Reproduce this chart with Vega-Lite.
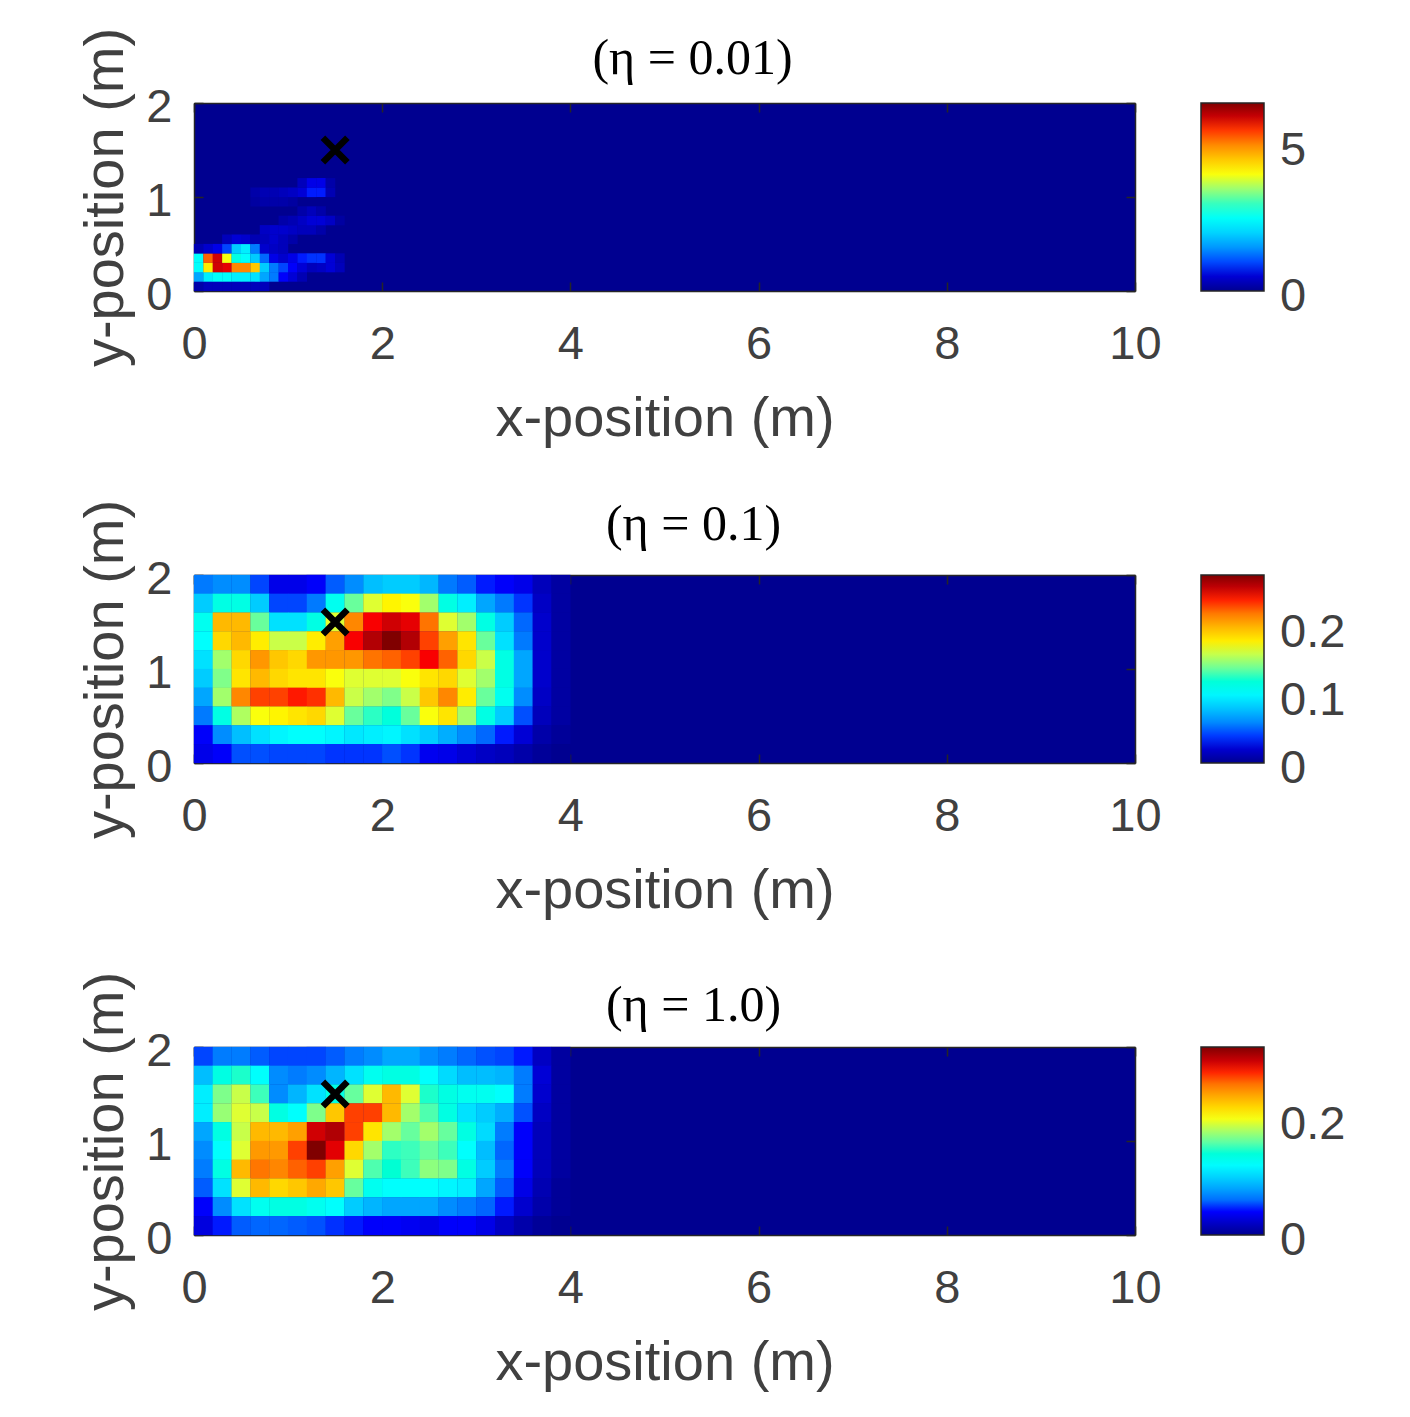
{
"$schema":"https://vega.github.io/schema/vega-lite/v6.json",
"background":"white",
"padding":{"left":77,"top":27,"right":10,"bottom":5},
"bounds":"flush",
"spacing":284,
"resolve":{"scale":{"color":"independent"}},
"config":{
"view":{"fill":"#000090","stroke":null},
"font":"Liberation Sans",
"axis":{"grid":false,"zindex":1,"format":"d","labelFont":"Liberation Sans","labelFontSize":47,"labelColor":"#404040","labelFlush":false,"labelOverlap":false,"titleFont":"Liberation Sans","titleFontSize":56,"titleFontWeight":"normal","titleColor":"#404040","domainColor":"#262626","domainWidth":1.5,"tickColor":"#262626","tickWidth":1.5,"tickSize":-9},
"axisX":{"labelPadding":62,"titlePadding":24,"labelBaseline":"middle"},
"axisY":{"labelPadding":31,"titlePadding":11,"labelOffset":4}
},
"datasets":{
"mark":[{"x":1.5,"y":1.5}],
"p1":[
{"x":0.05,"y":0.05,"v":0.19},{"x":0.15,"y":0.05,"v":0.32},{"x":0.25,"y":0.05,"v":0.32},{"x":0.35,"y":0.05,"v":0.32},{"x":0.45,"y":0.05,"v":0.32},{"x":0.55,"y":0.05,"v":0.32},{"x":0.65,"y":0.05,"v":0.32},{"x":0.75,"y":0.05,"v":0.32},
{"x":0.05,"y":0.15,"v":1.61},{"x":0.15,"y":0.15,"v":2.25},{"x":0.25,"y":0.15,"v":2.45},{"x":0.35,"y":0.15,"v":2.45},{"x":0.45,"y":0.15,"v":2.25},{"x":0.55,"y":0.15,"v":2.25},{"x":0.65,"y":0.15,"v":2.13},{"x":0.75,"y":0.15,"v":1.61},{"x":0.85,"y":0.15,"v":1.29},{"x":0.95,"y":0.15,"v":0.77},{"x":1.05,"y":0.15,"v":0.52},{"x":1.15,"y":0.15,"v":0.26},
{"x":0.05,"y":0.25,"v":2.45},{"x":0.15,"y":0.25,"v":4.19},{"x":0.25,"y":0.25,"v":5.92},{"x":0.35,"y":0.25,"v":5.8},{"x":0.45,"y":0.25,"v":5.02},{"x":0.55,"y":0.25,"v":5.02},{"x":0.65,"y":0.25,"v":4.51},{"x":0.75,"y":0.25,"v":1.93},{"x":0.85,"y":0.25,"v":1.29},{"x":0.95,"y":0.25,"v":0.97},{"x":1.05,"y":0.25,"v":0.77},{"x":1.15,"y":0.25,"v":0.52},{"x":1.25,"y":0.25,"v":0.32},{"x":1.35,"y":0.25,"v":0.39},{"x":1.45,"y":0.25,"v":0.52},{"x":1.55,"y":0.25,"v":0.32},
{"x":0.05,"y":0.35,"v":2.45},{"x":0.15,"y":0.35,"v":5.28},{"x":0.25,"y":0.35,"v":5.92},{"x":0.35,"y":0.35,"v":3.99},{"x":0.45,"y":0.35,"v":2.7},{"x":0.55,"y":0.35,"v":2.45},{"x":0.65,"y":0.35,"v":1.93},{"x":0.75,"y":0.35,"v":1.16},{"x":0.85,"y":0.35,"v":0.64},{"x":0.95,"y":0.35,"v":0.45},{"x":1.05,"y":0.35,"v":0.64},{"x":1.15,"y":0.35,"v":0.84},{"x":1.25,"y":0.35,"v":0.9},{"x":1.35,"y":0.35,"v":0.9},{"x":1.45,"y":0.35,"v":0.52},{"x":1.55,"y":0.35,"v":0.26},
{"x":0.05,"y":0.45,"v":0.26},{"x":0.15,"y":0.45,"v":0.45},{"x":0.25,"y":0.45,"v":0.64},{"x":0.35,"y":0.45,"v":0.97},{"x":0.45,"y":0.45,"v":1.93},{"x":0.55,"y":0.45,"v":2.25},{"x":0.65,"y":0.45,"v":1.29},{"x":0.75,"y":0.45,"v":0.45},{"x":0.85,"y":0.45,"v":0.39},{"x":0.95,"y":0.45,"v":0.32},
{"x":0.35,"y":0.55,"v":0.32},{"x":0.45,"y":0.55,"v":0.52},{"x":0.55,"y":0.55,"v":0.45},{"x":0.65,"y":0.55,"v":0.26},{"x":0.75,"y":0.55,"v":0.32},{"x":0.85,"y":0.55,"v":0.45},{"x":0.95,"y":0.55,"v":0.32},{"x":1.05,"y":0.55,"v":0.19},
{"x":0.75,"y":0.65,"v":0.39},{"x":0.85,"y":0.65,"v":0.45},{"x":0.95,"y":0.65,"v":0.45},{"x":1.05,"y":0.65,"v":0.39},{"x":1.15,"y":0.65,"v":0.32},{"x":1.25,"y":0.65,"v":0.32},{"x":1.35,"y":0.65,"v":0.19},
{"x":0.95,"y":0.75,"v":0.19},{"x":1.05,"y":0.75,"v":0.26},{"x":1.15,"y":0.75,"v":0.39},{"x":1.25,"y":0.75,"v":0.52},{"x":1.35,"y":0.75,"v":0.52},{"x":1.45,"y":0.75,"v":0.39},{"x":1.55,"y":0.75,"v":0.13},
{"x":1.15,"y":0.85,"v":0.19},{"x":1.25,"y":0.85,"v":0.32},{"x":1.35,"y":0.85,"v":0.19},
{"x":0.65,"y":0.95,"v":0.13},{"x":0.75,"y":0.95,"v":0.19},{"x":0.85,"y":0.95,"v":0.19},{"x":0.95,"y":0.95,"v":0.19},{"x":1.05,"y":0.95,"v":0.13},
{"x":0.65,"y":1.05,"v":0.19},{"x":0.75,"y":1.05,"v":0.26},{"x":0.85,"y":1.05,"v":0.26},{"x":0.95,"y":1.05,"v":0.32},{"x":1.05,"y":1.05,"v":0.39},{"x":1.15,"y":1.05,"v":0.52},{"x":1.25,"y":1.05,"v":0.84},{"x":1.35,"y":1.05,"v":0.84},{"x":1.45,"y":1.05,"v":0.26},
{"x":1.15,"y":1.15,"v":0.32},{"x":1.25,"y":1.15,"v":0.64},{"x":1.35,"y":1.15,"v":0.64},{"x":1.45,"y":1.15,"v":0.19}
],
"p2":[
{"x":0.1,"y":1.9,"v":0.055},{"x":0.3,"y":1.9,"v":0.061},{"x":0.5,"y":1.9,"v":0.061},{"x":0.7,"y":1.9,"v":0.042},{"x":0.9,"y":1.9,"v":0.028},{"x":1.1,"y":1.9,"v":0.028},{"x":1.3,"y":1.9,"v":0.033},{"x":1.5,"y":1.9,"v":0.047},{"x":1.7,"y":1.9,"v":0.061},{"x":1.9,"y":1.9,"v":0.078},{"x":2.1,"y":1.9,"v":0.083},{"x":2.3,"y":1.9,"v":0.083},{"x":2.5,"y":1.9,"v":0.075},{"x":2.7,"y":1.9,"v":0.055},{"x":2.9,"y":1.9,"v":0.047},{"x":3.1,"y":1.9,"v":0.036},{"x":3.3,"y":1.9,"v":0.033},{"x":3.5,"y":1.9,"v":0.028},{"x":3.7,"y":1.9,"v":0.014},{"x":3.9,"y":1.9,"v":0.006},
{"x":0.1,"y":1.7,"v":0.083},{"x":0.3,"y":1.7,"v":0.116},{"x":0.5,"y":1.7,"v":0.116},{"x":0.7,"y":1.7,"v":0.083},{"x":0.9,"y":1.7,"v":0.042},{"x":1.1,"y":1.7,"v":0.042},{"x":1.3,"y":1.7,"v":0.055},{"x":1.5,"y":1.7,"v":0.111},{"x":1.7,"y":1.7,"v":0.139},{"x":1.9,"y":1.7,"v":0.166},{"x":2.1,"y":1.7,"v":0.177},{"x":2.3,"y":1.7,"v":0.172},{"x":2.5,"y":1.7,"v":0.152},{"x":2.7,"y":1.7,"v":0.116},{"x":2.9,"y":1.7,"v":0.097},{"x":3.1,"y":1.7,"v":0.069},{"x":3.3,"y":1.7,"v":0.055},{"x":3.5,"y":1.7,"v":0.039},{"x":3.7,"y":1.7,"v":0.017},{"x":3.9,"y":1.7,"v":0.006},
{"x":0.1,"y":1.5,"v":0.111},{"x":0.3,"y":1.5,"v":0.199},{"x":0.5,"y":1.5,"v":0.199},{"x":0.7,"y":1.5,"v":0.139},{"x":0.9,"y":1.5,"v":0.091},{"x":1.1,"y":1.5,"v":0.091},{"x":1.3,"y":1.5,"v":0.116},{"x":1.5,"y":1.5,"v":0.166},{"x":1.7,"y":1.5,"v":0.216},{"x":1.9,"y":1.5,"v":0.244},{"x":2.1,"y":1.5,"v":0.255},{"x":2.3,"y":1.5,"v":0.249},{"x":2.5,"y":1.5,"v":0.222},{"x":2.7,"y":1.5,"v":0.166},{"x":2.9,"y":1.5,"v":0.152},{"x":3.1,"y":1.5,"v":0.116},{"x":3.3,"y":1.5,"v":0.083},{"x":3.5,"y":1.5,"v":0.05},{"x":3.7,"y":1.5,"v":0.019},{"x":3.9,"y":1.5,"v":0.006},
{"x":0.1,"y":1.3,"v":0.105},{"x":0.3,"y":1.3,"v":0.188},{"x":0.5,"y":1.3,"v":0.199},{"x":0.7,"y":1.3,"v":0.18},{"x":0.9,"y":1.3,"v":0.161},{"x":1.1,"y":1.3,"v":0.161},{"x":1.3,"y":1.3,"v":0.18},{"x":1.5,"y":1.3,"v":0.208},{"x":1.7,"y":1.3,"v":0.244},{"x":1.9,"y":1.3,"v":0.263},{"x":2.1,"y":1.3,"v":0.277},{"x":2.3,"y":1.3,"v":0.263},{"x":2.5,"y":1.3,"v":0.235},{"x":2.7,"y":1.3,"v":0.208},{"x":2.9,"y":1.3,"v":0.183},{"x":3.1,"y":1.3,"v":0.139},{"x":3.3,"y":1.3,"v":0.091},{"x":3.5,"y":1.3,"v":0.055},{"x":3.7,"y":1.3,"v":0.019},{"x":3.9,"y":1.3,"v":0.006},
{"x":0.1,"y":1.1,"v":0.091},{"x":0.3,"y":1.1,"v":0.152},{"x":0.5,"y":1.1,"v":0.188},{"x":0.7,"y":1.1,"v":0.211},{"x":0.9,"y":1.1,"v":0.194},{"x":1.1,"y":1.1,"v":0.188},{"x":1.3,"y":1.1,"v":0.211},{"x":1.5,"y":1.1,"v":0.211},{"x":1.7,"y":1.1,"v":0.211},{"x":1.9,"y":1.1,"v":0.222},{"x":2.1,"y":1.1,"v":0.227},{"x":2.3,"y":1.1,"v":0.235},{"x":2.5,"y":1.1,"v":0.244},{"x":2.7,"y":1.1,"v":0.227},{"x":2.9,"y":1.1,"v":0.188},{"x":3.1,"y":1.1,"v":0.161},{"x":3.3,"y":1.1,"v":0.116},{"x":3.5,"y":1.1,"v":0.069},{"x":3.7,"y":1.1,"v":0.019},{"x":3.9,"y":1.1,"v":0.006},
{"x":0.1,"y":0.9,"v":0.083},{"x":0.3,"y":0.9,"v":0.144},{"x":0.5,"y":0.9,"v":0.183},{"x":0.7,"y":0.9,"v":0.199},{"x":0.9,"y":0.9,"v":0.188},{"x":1.1,"y":0.9,"v":0.183},{"x":1.3,"y":0.9,"v":0.183},{"x":1.5,"y":0.9,"v":0.172},{"x":1.7,"y":0.9,"v":0.166},{"x":1.9,"y":0.9,"v":0.166},{"x":2.1,"y":0.9,"v":0.166},{"x":2.3,"y":0.9,"v":0.172},{"x":2.5,"y":0.9,"v":0.183},{"x":2.7,"y":0.9,"v":0.188},{"x":2.9,"y":0.9,"v":0.166},{"x":3.1,"y":0.9,"v":0.152},{"x":3.3,"y":0.9,"v":0.116},{"x":3.5,"y":0.9,"v":0.069},{"x":3.7,"y":0.9,"v":0.019},{"x":3.9,"y":0.9,"v":0.006},
{"x":0.1,"y":0.7,"v":0.069},{"x":0.3,"y":0.7,"v":0.152},{"x":0.5,"y":0.7,"v":0.216},{"x":0.7,"y":0.7,"v":0.235},{"x":0.9,"y":0.7,"v":0.235},{"x":1.1,"y":0.7,"v":0.241},{"x":1.3,"y":0.7,"v":0.238},{"x":1.5,"y":0.7,"v":0.199},{"x":1.7,"y":0.7,"v":0.161},{"x":1.9,"y":0.7,"v":0.152},{"x":2.1,"y":0.7,"v":0.144},{"x":2.3,"y":0.7,"v":0.161},{"x":2.5,"y":0.7,"v":0.194},{"x":2.7,"y":0.7,"v":0.216},{"x":2.9,"y":0.7,"v":0.18},{"x":3.1,"y":0.7,"v":0.139},{"x":3.3,"y":0.7,"v":0.111},{"x":3.5,"y":0.7,"v":0.061},{"x":3.7,"y":0.7,"v":0.017},{"x":3.9,"y":0.7,"v":0.006},
{"x":0.1,"y":0.5,"v":0.055},{"x":0.3,"y":0.5,"v":0.116},{"x":0.5,"y":0.5,"v":0.155},{"x":0.7,"y":0.5,"v":0.172},{"x":0.9,"y":0.5,"v":0.177},{"x":1.1,"y":0.5,"v":0.183},{"x":1.3,"y":0.5,"v":0.188},{"x":1.5,"y":0.5,"v":0.166},{"x":1.7,"y":0.5,"v":0.139},{"x":1.9,"y":0.5,"v":0.127},{"x":2.1,"y":0.5,"v":0.119},{"x":2.3,"y":0.5,"v":0.139},{"x":2.5,"y":0.5,"v":0.172},{"x":2.7,"y":0.5,"v":0.183},{"x":2.9,"y":0.5,"v":0.152},{"x":3.1,"y":0.5,"v":0.116},{"x":3.3,"y":0.5,"v":0.083},{"x":3.5,"y":0.5,"v":0.044},{"x":3.7,"y":0.5,"v":0.014},{"x":3.9,"y":0.5,"v":0.006},
{"x":0.1,"y":0.3,"v":0.033},{"x":0.3,"y":0.3,"v":0.061},{"x":0.5,"y":0.3,"v":0.078},{"x":0.7,"y":0.3,"v":0.091},{"x":0.9,"y":0.3,"v":0.1},{"x":1.1,"y":0.3,"v":0.105},{"x":1.3,"y":0.3,"v":0.105},{"x":1.5,"y":0.3,"v":0.1},{"x":1.7,"y":0.3,"v":0.094},{"x":1.9,"y":0.3,"v":0.097},{"x":2.1,"y":0.3,"v":0.1},{"x":2.3,"y":0.3,"v":0.091},{"x":2.5,"y":0.3,"v":0.083},{"x":2.7,"y":0.3,"v":0.072},{"x":2.9,"y":0.3,"v":0.061},{"x":3.1,"y":0.3,"v":0.05},{"x":3.3,"y":0.3,"v":0.036},{"x":3.5,"y":0.3,"v":0.022},{"x":3.7,"y":0.3,"v":0.008},{"x":3.9,"y":0.3,"v":0.003},
{"x":0.1,"y":0.1,"v":0.028},{"x":0.3,"y":0.1,"v":0.033},{"x":0.5,"y":0.1,"v":0.044},{"x":0.7,"y":0.1,"v":0.044},{"x":0.9,"y":0.1,"v":0.042},{"x":1.1,"y":0.1,"v":0.042},{"x":1.3,"y":0.1,"v":0.042},{"x":1.5,"y":0.1,"v":0.039},{"x":1.7,"y":0.1,"v":0.039},{"x":1.9,"y":0.1,"v":0.039},{"x":2.1,"y":0.1,"v":0.044},{"x":2.3,"y":0.1,"v":0.039},{"x":2.5,"y":0.1,"v":0.03},{"x":2.7,"y":0.1,"v":0.028},{"x":2.9,"y":0.1,"v":0.022},{"x":3.1,"y":0.1,"v":0.017},{"x":3.3,"y":0.1,"v":0.014},{"x":3.5,"y":0.1,"v":0.008},{"x":3.7,"y":0.1,"v":0.003},{"x":3.9,"y":0.1,"v":0}
],
"p3":[
{"x":0.1,"y":1.9,"v":0.049},{"x":0.3,"y":1.9,"v":0.065},{"x":0.5,"y":1.9,"v":0.065},{"x":0.7,"y":1.9,"v":0.055},{"x":0.9,"y":1.9,"v":0.049},{"x":1.1,"y":1.9,"v":0.049},{"x":1.3,"y":1.9,"v":0.049},{"x":1.5,"y":1.9,"v":0.055},{"x":1.7,"y":1.9,"v":0.065},{"x":1.9,"y":1.9,"v":0.071},{"x":2.1,"y":1.9,"v":0.081},{"x":2.3,"y":1.9,"v":0.081},{"x":2.5,"y":1.9,"v":0.071},{"x":2.7,"y":1.9,"v":0.065},{"x":2.9,"y":1.9,"v":0.058},{"x":3.1,"y":1.9,"v":0.052},{"x":3.3,"y":1.9,"v":0.049},{"x":3.5,"y":1.9,"v":0.042},{"x":3.7,"y":1.9,"v":0.019},{"x":3.9,"y":1.9,"v":0.006},
{"x":0.1,"y":1.7,"v":0.091},{"x":0.3,"y":1.7,"v":0.136},{"x":0.5,"y":1.7,"v":0.146},{"x":0.7,"y":1.7,"v":0.123},{"x":0.9,"y":1.7,"v":0.071},{"x":1.1,"y":1.7,"v":0.065},{"x":1.3,"y":1.7,"v":0.071},{"x":1.5,"y":1.7,"v":0.087},{"x":1.7,"y":1.7,"v":0.107},{"x":1.9,"y":1.7,"v":0.13},{"x":2.1,"y":1.7,"v":0.136},{"x":2.3,"y":1.7,"v":0.136},{"x":2.5,"y":1.7,"v":0.123},{"x":2.7,"y":1.7,"v":0.104},{"x":2.9,"y":1.7,"v":0.091},{"x":3.1,"y":1.7,"v":0.091},{"x":3.3,"y":1.7,"v":0.087},{"x":3.5,"y":1.7,"v":0.065},{"x":3.7,"y":1.7,"v":0.026},{"x":3.9,"y":1.7,"v":0.006},
{"x":0.1,"y":1.5,"v":0.113},{"x":0.3,"y":1.5,"v":0.168},{"x":0.5,"y":1.5,"v":0.188},{"x":0.7,"y":1.5,"v":0.152},{"x":0.9,"y":1.5,"v":0.071},{"x":1.1,"y":1.5,"v":0.087},{"x":1.3,"y":1.5,"v":0.107},{"x":1.5,"y":1.5,"v":0.136},{"x":1.7,"y":1.5,"v":0.162},{"x":1.9,"y":1.5,"v":0.194},{"x":2.1,"y":1.5,"v":0.233},{"x":2.3,"y":1.5,"v":0.194},{"x":2.5,"y":1.5,"v":0.146},{"x":2.7,"y":1.5,"v":0.136},{"x":2.9,"y":1.5,"v":0.13},{"x":3.1,"y":1.5,"v":0.13},{"x":3.3,"y":1.5,"v":0.123},{"x":3.5,"y":1.5,"v":0.065},{"x":3.7,"y":1.5,"v":0.023},{"x":3.9,"y":1.5,"v":0.006},
{"x":0.1,"y":1.3,"v":0.113},{"x":0.3,"y":1.3,"v":0.175},{"x":0.5,"y":1.3,"v":0.194},{"x":0.7,"y":1.3,"v":0.188},{"x":0.9,"y":1.3,"v":0.136},{"x":1.1,"y":1.3,"v":0.123},{"x":1.3,"y":1.3,"v":0.168},{"x":1.5,"y":1.3,"v":0.227},{"x":1.7,"y":1.3,"v":0.275},{"x":1.9,"y":1.3,"v":0.275},{"x":2.1,"y":1.3,"v":0.233},{"x":2.3,"y":1.3,"v":0.178},{"x":2.5,"y":1.3,"v":0.156},{"x":2.7,"y":1.3,"v":0.136},{"x":2.9,"y":1.3,"v":0.107},{"x":3.1,"y":1.3,"v":0.097},{"x":3.3,"y":1.3,"v":0.084},{"x":3.5,"y":1.3,"v":0.052},{"x":3.7,"y":1.3,"v":0.019},{"x":3.9,"y":1.3,"v":0.006},
{"x":0.1,"y":1.1,"v":0.081},{"x":0.3,"y":1.1,"v":0.136},{"x":0.5,"y":1.1,"v":0.188},{"x":0.7,"y":1.1,"v":0.233},{"x":0.9,"y":1.1,"v":0.233},{"x":1.1,"y":1.1,"v":0.243},{"x":1.3,"y":1.1,"v":0.298},{"x":1.5,"y":1.1,"v":0.308},{"x":1.7,"y":1.1,"v":0.275},{"x":1.9,"y":1.1,"v":0.214},{"x":2.1,"y":1.1,"v":0.178},{"x":2.3,"y":1.1,"v":0.162},{"x":2.5,"y":1.1,"v":0.178},{"x":2.7,"y":1.1,"v":0.162},{"x":2.9,"y":1.1,"v":0.136},{"x":3.1,"y":1.1,"v":0.104},{"x":3.3,"y":1.1,"v":0.065},{"x":3.5,"y":1.1,"v":0.039},{"x":3.7,"y":1.1,"v":0.016},{"x":3.9,"y":1.1,"v":0.006},
{"x":0.1,"y":0.9,"v":0.071},{"x":0.3,"y":0.9,"v":0.123},{"x":0.5,"y":0.9,"v":0.194},{"x":0.7,"y":0.9,"v":0.246},{"x":0.9,"y":0.9,"v":0.246},{"x":1.1,"y":0.9,"v":0.275},{"x":1.3,"y":0.9,"v":0.324},{"x":1.5,"y":0.9,"v":0.292},{"x":1.7,"y":0.9,"v":0.22},{"x":1.9,"y":0.9,"v":0.178},{"x":2.1,"y":0.9,"v":0.149},{"x":2.3,"y":0.9,"v":0.152},{"x":2.5,"y":0.9,"v":0.162},{"x":2.7,"y":0.9,"v":0.152},{"x":2.9,"y":0.9,"v":0.123},{"x":3.1,"y":0.9,"v":0.091},{"x":3.3,"y":0.9,"v":0.058},{"x":3.5,"y":0.9,"v":0.039},{"x":3.7,"y":0.9,"v":0.016},{"x":3.9,"y":0.9,"v":0.006},
{"x":0.1,"y":0.7,"v":0.065},{"x":0.3,"y":0.7,"v":0.136},{"x":0.5,"y":0.7,"v":0.233},{"x":0.7,"y":0.7,"v":0.259},{"x":0.9,"y":0.7,"v":0.253},{"x":1.1,"y":0.7,"v":0.266},{"x":1.3,"y":0.7,"v":0.275},{"x":1.5,"y":0.7,"v":0.243},{"x":1.7,"y":0.7,"v":0.194},{"x":1.9,"y":0.7,"v":0.156},{"x":2.1,"y":0.7,"v":0.143},{"x":2.3,"y":0.7,"v":0.152},{"x":2.5,"y":0.7,"v":0.172},{"x":2.7,"y":0.7,"v":0.168},{"x":2.9,"y":0.7,"v":0.136},{"x":3.1,"y":0.7,"v":0.097},{"x":3.3,"y":0.7,"v":0.065},{"x":3.5,"y":0.7,"v":0.039},{"x":3.7,"y":0.7,"v":0.016},{"x":3.9,"y":0.7,"v":0.006},
{"x":0.1,"y":0.5,"v":0.055},{"x":0.3,"y":0.5,"v":0.107},{"x":0.5,"y":0.5,"v":0.194},{"x":0.7,"y":0.5,"v":0.233},{"x":0.9,"y":0.5,"v":0.22},{"x":1.1,"y":0.5,"v":0.227},{"x":1.3,"y":0.5,"v":0.24},{"x":1.5,"y":0.5,"v":0.227},{"x":1.7,"y":0.5,"v":0.162},{"x":1.9,"y":0.5,"v":0.13},{"x":2.1,"y":0.5,"v":0.123},{"x":2.3,"y":0.5,"v":0.123},{"x":2.5,"y":0.5,"v":0.123},{"x":2.7,"y":0.5,"v":0.117},{"x":2.9,"y":0.5,"v":0.113},{"x":3.1,"y":0.5,"v":0.081},{"x":3.3,"y":0.5,"v":0.055},{"x":3.5,"y":0.5,"v":0.032},{"x":3.7,"y":0.5,"v":0.013},{"x":3.9,"y":0.5,"v":0.003},
{"x":0.1,"y":0.3,"v":0.039},{"x":0.3,"y":0.3,"v":0.071},{"x":0.5,"y":0.3,"v":0.107},{"x":0.7,"y":0.3,"v":0.13},{"x":0.9,"y":0.3,"v":0.136},{"x":1.1,"y":0.3,"v":0.136},{"x":1.3,"y":0.3,"v":0.13},{"x":1.5,"y":0.3,"v":0.123},{"x":1.7,"y":0.3,"v":0.097},{"x":1.9,"y":0.3,"v":0.087},{"x":2.1,"y":0.3,"v":0.081},{"x":2.3,"y":0.3,"v":0.081},{"x":2.5,"y":0.3,"v":0.081},{"x":2.7,"y":0.3,"v":0.071},{"x":2.9,"y":0.3,"v":0.065},{"x":3.1,"y":0.3,"v":0.058},{"x":3.3,"y":0.3,"v":0.042},{"x":3.5,"y":0.3,"v":0.023},{"x":3.7,"y":0.3,"v":0.01},{"x":3.9,"y":0.3,"v":0.003},
{"x":0.1,"y":0.1,"v":0.029},{"x":0.3,"y":0.1,"v":0.042},{"x":0.5,"y":0.1,"v":0.055},{"x":0.7,"y":0.1,"v":0.058},{"x":0.9,"y":0.1,"v":0.058},{"x":1.1,"y":0.1,"v":0.055},{"x":1.3,"y":0.1,"v":0.052},{"x":1.5,"y":0.1,"v":0.045},{"x":1.7,"y":0.1,"v":0.042},{"x":1.9,"y":0.1,"v":0.039},{"x":2.1,"y":0.1,"v":0.039},{"x":2.3,"y":0.1,"v":0.036},{"x":2.5,"y":0.1,"v":0.032},{"x":2.7,"y":0.1,"v":0.039},{"x":2.9,"y":0.1,"v":0.039},{"x":3.1,"y":0.1,"v":0.032},{"x":3.3,"y":0.1,"v":0.019},{"x":3.5,"y":0.1,"v":0.01},{"x":3.7,"y":0.1,"v":0.003},{"x":3.9,"y":0.1,"v":0}
]
},
"vconcat":[
{"width":941,"height":188,
"title":{"text":"(η = 0.01)","font":"Liberation Serif","fontSize":50,"fontWeight":"normal","color":"black","offset":-57,"dx":28},
"layer":[
{"data":{"name":"p1"},"mark":{"type":"rect","width":9.6,"height":9.6},
"encoding":{
"x":{"field":"x","type":"quantitative","scale":{"domain":[0,10],"nice":false},"axis":{"values":[0,2,4,6,8,10],"title":"x-position (m)"}},
"y":{"field":"y","type":"quantitative","scale":{"domain":[0,2],"nice":false},"axis":{"values":[0,1,2],"title":"y-position (m)"}},
"color":{"field":"v","type":"quantitative","scale":{"domain":[0,0.805,2.415,4.025,5.635,6.44],"range":["#000090","#0000ff","#00ffff","#ffff00","#ff0000","#800000"]},
"legend":{"title":null,"orient":"right","offset":65,"padding":0,"values":[0,5],"format":"d","gradientLength":188,"gradientThickness":63,"gradientStrokeColor":"#262626","gradientStrokeWidth":1.5,"labelFont":"Liberation Sans","labelFontSize":47,"labelColor":"#404040","labelOffset":16,"labelOverlap":false,"encoding":{"labels":{"baseline":{"value":"middle"},"dy":{"value":6}}}}}
}},
{"data":{"name":"mark"},"mark":{"type":"point","shape":"M-1,-1L1,1M-1,1L1,-1","size":600,"stroke":"black","strokeWidth":6.5,"filled":false,"opacity":1},
"encoding":{
"x":{"field":"x","type":"quantitative","scale":{"domain":[0,10],"nice":false},"axis":{"values":[0,2,4,6,8,10],"labels":false,"title":null}},
"y":{"field":"y","type":"quantitative","scale":{"domain":[0,2],"nice":false},"axis":{"values":[0,1,2],"labels":false,"title":null}}
}}
],
"resolve":{"axis":{"x":"independent","y":"independent"}}
},
{"width":941,"height":188,
"title":{"text":"(η = 0.1)","font":"Liberation Serif","fontSize":50,"fontWeight":"normal","color":"black","offset":-51,"dx":29},
"layer":[
{"data":{"name":"p2"},"mark":{"type":"rect","width":19.1,"height":19.1},
"encoding":{
"x":{"field":"x","type":"quantitative","scale":{"domain":[0,10],"nice":false},"axis":{"values":[0,2,4,6,8,10],"title":"x-position (m)"}},
"y":{"field":"y","type":"quantitative","scale":{"domain":[0,2],"nice":false},"axis":{"values":[0,1,2],"title":"y-position (m)"}},
"color":{"field":"v","type":"quantitative","scale":{"domain":[0,0.0346,0.1039,0.1731,0.2424,0.277],"range":["#000090","#0000ff","#00ffff","#ffff00","#ff0000","#800000"]},
"legend":{"title":null,"orient":"right","offset":65,"padding":0,"values":[0,0.1,0.2],"labelExpr":"datum.value==0?'0':datum.label","gradientLength":188,"gradientThickness":63,"gradientStrokeColor":"#262626","gradientStrokeWidth":1.5,"labelFont":"Liberation Sans","labelFontSize":47,"labelColor":"#404040","labelOffset":16,"labelOverlap":false,"encoding":{"labels":{"baseline":{"value":"middle"},"dy":{"value":6}}}}}
}},
{"data":{"name":"mark"},"mark":{"type":"point","shape":"M-1,-1L1,1M-1,1L1,-1","size":600,"stroke":"black","strokeWidth":6.5,"filled":false,"opacity":1},
"encoding":{
"x":{"field":"x","type":"quantitative","scale":{"domain":[0,10],"nice":false},"axis":{"values":[0,2,4,6,8,10],"labels":false,"title":null}},
"y":{"field":"y","type":"quantitative","scale":{"domain":[0,2],"nice":false},"axis":{"values":[0,1,2],"labels":false,"title":null}}
}}
],
"resolve":{"axis":{"x":"independent","y":"independent"}}
},
{"width":941,"height":188,
"title":{"text":"(η = 1.0)","font":"Liberation Serif","fontSize":50,"fontWeight":"normal","color":"black","offset":-60,"dx":29},
"layer":[
{"data":{"name":"p3"},"mark":{"type":"rect","width":19.1,"height":19.1},
"encoding":{
"x":{"field":"x","type":"quantitative","scale":{"domain":[0,10],"nice":false},"axis":{"values":[0,2,4,6,8,10],"title":"x-position (m)"}},
"y":{"field":"y","type":"quantitative","scale":{"domain":[0,2],"nice":false},"axis":{"values":[0,1,2],"title":"y-position (m)"}},
"color":{"field":"v","type":"quantitative","scale":{"domain":[0,0.0405,0.1215,0.2025,0.2835,0.324],"range":["#000090","#0000ff","#00ffff","#ffff00","#ff0000","#800000"]},
"legend":{"title":null,"orient":"right","offset":65,"padding":0,"values":[0,0.2],"labelExpr":"datum.value==0?'0':datum.label","gradientLength":188,"gradientThickness":63,"gradientStrokeColor":"#262626","gradientStrokeWidth":1.5,"labelFont":"Liberation Sans","labelFontSize":47,"labelColor":"#404040","labelOffset":16,"labelOverlap":false,"encoding":{"labels":{"baseline":{"value":"middle"},"dy":{"value":6}}}}}
}},
{"data":{"name":"mark"},"mark":{"type":"point","shape":"M-1,-1L1,1M-1,1L1,-1","size":600,"stroke":"black","strokeWidth":6.5,"filled":false,"opacity":1},
"encoding":{
"x":{"field":"x","type":"quantitative","scale":{"domain":[0,10],"nice":false},"axis":{"values":[0,2,4,6,8,10],"labels":false,"title":null}},
"y":{"field":"y","type":"quantitative","scale":{"domain":[0,2],"nice":false},"axis":{"values":[0,1,2],"labels":false,"title":null}}
}}
],
"resolve":{"axis":{"x":"independent","y":"independent"}}
}
]
}
